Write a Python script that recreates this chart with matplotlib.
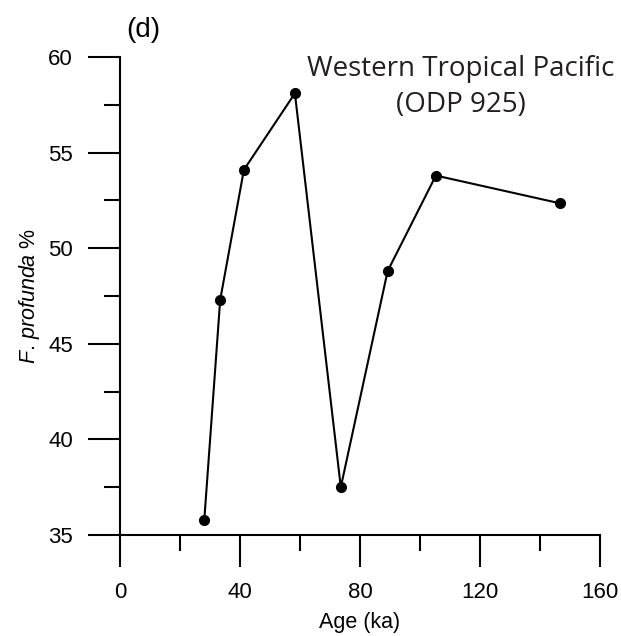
import matplotlib.pyplot as plt
from matplotlib.ticker import MultipleLocator

# ODP 925 F. profunda record
age = [28.1, 33.4, 41.3, 58.3, 73.6, 89.2, 105.3, 146.6]
profunda = [35.8, 47.3, 54.1, 58.1, 37.5, 48.8, 53.8, 52.35]

x_ticks = [0, 40, 80, 120, 160]
y_ticks = [35, 40, 45, 50, 55, 60]

plt.rcParams['font.family'] = ['Liberation Sans', 'DejaVu Sans']
plt.rcParams['mathtext.fontset'] = 'custom'
plt.rcParams['mathtext.it'] = 'Liberation Sans:italic'
plt.rcParams['mathtext.rm'] = 'Liberation Sans'

fig = plt.figure(figsize=(6.21, 6.36), dpi=100)
ax = fig.add_axes([120 / 621, 1 - 535 / 636, 480 / 621, 478 / 636])

ax.plot(age, profunda, color='black', lw=1.5, marker='o', ms=7, clip_on=False)

ax.set_xlim(0, 160)
ax.set_ylim(35, 60)
ax.set_xticks(x_ticks)
ax.set_yticks(y_ticks)
ax.xaxis.set_minor_locator(MultipleLocator(20))
ax.yaxis.set_minor_locator(MultipleLocator(2.5))

for s in ['top', 'right']:
    ax.spines[s].set_visible(False)
for s in ['left', 'bottom']:
    ax.spines[s].set_linewidth(1.5)

ax.tick_params(which='major', length=23, width=1.5, pad=11, labelsize=16)
ax.tick_params(which='minor', length=11.5, width=1.5)

ax.set_xlabel('Age (ka)', fontsize=15.5, labelpad=6)
ax.set_ylabel(r'$\mathit{F}$. $\mathit{profunda}$ %', fontsize=15.5, labelpad=4)

fig.text(126 / 621, 1 - 37 / 636, '(d)', fontsize=20, ha='left', va='baseline')
fig.text(461 / 621, 1 - 112 / 636, 'Western Tropical Pacific\n(ODP 925)',
         fontsize=20, family='Open Sans', color='#231f20',
         ha='center', va='baseline', multialignment='center', linespacing=1.4)

fig.savefig('out.png', dpi=100)
